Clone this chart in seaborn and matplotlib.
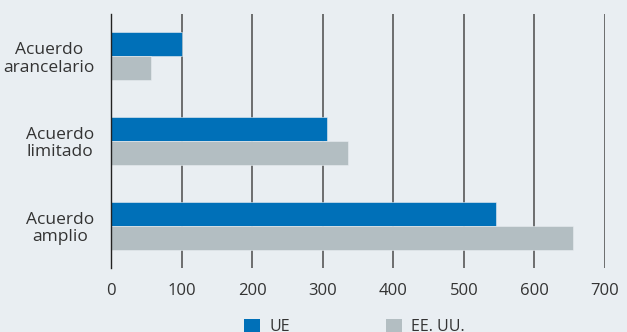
import matplotlib
matplotlib.use("Agg")
import matplotlib.pyplot as plt
import seaborn as sns
import pandas as pd
from matplotlib.patches import Patch
from matplotlib.ticker import FixedLocator

categories = ["Acuerdo\narancelario", "Acuerdo\nlimitado", "Acuerdo\namplio"]
series_names = ["UE", "EE. UU."]
ue_values = [100, 306, 545]
us_values = [57, 336, 655]
x_ticks = [0, 100, 200, 300, 400, 500, 600, 700]
colors = ["#0070b8", "#b3bec2"]

df = pd.DataFrame({
    "cat": categories * 2,
    "serie": [series_names[0]] * 3 + [series_names[1]] * 3,
    "valor": ue_values + us_values,
})

sns.set_style("white")
plt.rcParams["font.family"] = ["Open Sans", "DejaVu Sans"]
bg = "#e9eef2"
txt = "#333333"

fig = plt.figure(figsize=(6.27, 3.32), dpi=100, facecolor=bg)
ax = fig.add_axes([111/627, 1 - 268/332, (605 - 111)/627, (268 - 14)/332])
ax.set_facecolor(bg)

sns.barplot(data=df, y="cat", x="valor", hue="serie", orient="h",
            palette=colors, width=0.57, gap=0, ax=ax, legend=False,
            edgecolor=bg, linewidth=0.4, saturation=1)

ax.set_xlim(0, 700)
ax.set_ylim(2.5, -0.5)
ax.set_xticks(x_ticks)
ax.set_xticklabels([str(v) for v in x_ticks], fontsize=12, color=txt)
ax.tick_params(axis="x", length=0, pad=11)
ax.set_axisbelow(True)
ax.grid(axis="x", color="#4a4a4a", linewidth=1.1)
ax.grid(axis="y", visible=False)

ax.set_yticks(range(3))
ax.set_yticklabels(categories, fontsize=12.5, color=txt, ha="right",
                   multialignment="center", linespacing=1.1)
ax.tick_params(axis="y", which="major", length=0, pad=12)
ax.yaxis.set_minor_locator(FixedLocator([-0.5, 0.5, 1.5, 2.5]))
ax.tick_params(axis="y", which="minor", direction="in", length=5,
               width=1, color="#222222")

for s in ["top", "right", "bottom"]:
    ax.spines[s].set_visible(False)
ax.spines["left"].set_color("#222222")
ax.spines["left"].set_linewidth(1)
ax.set_xlabel("")
ax.set_ylabel("")

handles = [Patch(facecolor=c, edgecolor="none") for c in colors]
fig.legend(handles, series_names, loc="upper center",
           bbox_to_anchor=(0.565, 0.04), ncol=2, frameon=False,
           fontsize=11.5, handlelength=1.0, handleheight=1.0,
           columnspacing=6.0, handletextpad=0.6, labelcolor=txt,
           borderaxespad=0, borderpad=0)

fig.savefig("out.png", dpi=100, facecolor=bg)
